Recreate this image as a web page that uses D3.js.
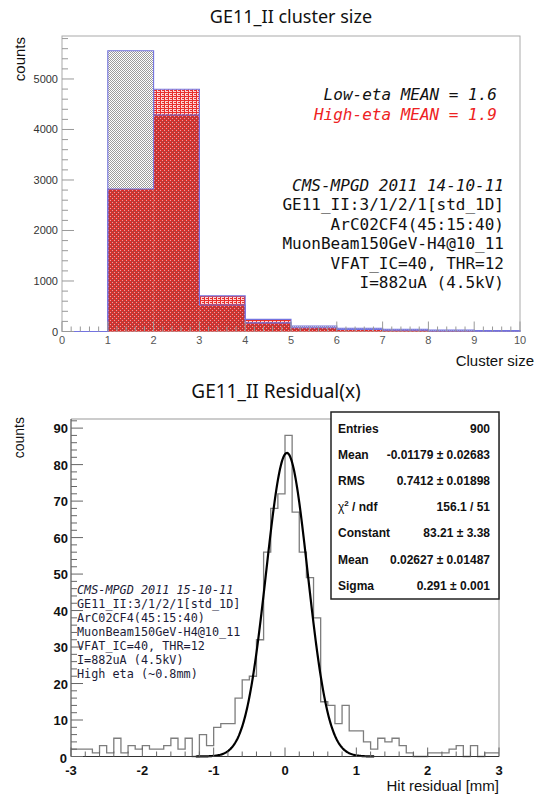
<!DOCTYPE html>
<html>
<head>
<meta charset="utf-8">
<script src="https://cdnjs.cloudflare.com/ajax/libs/d3/7.8.5/d3.min.js"></script>
<style>
body { margin: 0; background: #fff; }
svg { display: block; }
</style>
</head>
<body>
<svg id="chart" width="544" height="796"></svg>
<script>
// ---- cluster size (top) ----
var clusterBins = [0, 1, 2, 3, 4, 5, 6, 7, 8, 9];
var lowEta = [0, 5560, 4287, 525, 170, 110, 63, 45, 30, 20];
var highEta = [0, 2822, 4796, 705, 240, 75, 43, 25, 10, 5];
var topXTicks = [0, 1, 2, 3, 4, 5, 6, 7, 8, 9, 10];
var topYTicks = [0, 1000, 2000, 3000, 4000, 5000];
var meanLines = ["Low-eta MEAN = 1.6", "High-eta MEAN = 1.9"];
var topInfo = ["CMS-MPGD 2011 14-10-11", "GE11_II:3/1/2/1[std_1D]", "ArC02CF4(45:15:40)",
    "MuonBeam150GeV-H4@10_11", "VFAT_IC=40, THR=12", "I=882uA (4.5kV)"];

// ---- residual (bottom) ----
var residualEdges = [-3, 3];
var residualCounts = [2, 2, 2, 1, 3, 1, 5, 1, 3, 2,
    3, 2, 2, 3, 5, 2, 5, 0, 6, 3,
    8, 9, 9, 16, 21, 22, 32, 56, 68, 72,
    88, 67, 56, 49, 38, 15, 14, 9, 14, 7,
    7, 4, 2, 5, 4, 5, 3, 1, 0, 0,
    1, 1, 1, 2, 3, 0, 3, 0, 1, 1];
var botXTicks = [-3, -2, -1, 0, 1, 2, 3];
var botYTicks = [0, 10, 20, 30, 40, 50, 60, 70, 80, 90];
var fitConstant = 83.21, fitMean = 0.02627, fitSigma = 0.291;
var statLabels = ["Entries", "Mean", "RMS", "chi2", "Constant", "Mean", "Sigma"];
var statValues = ["900", "-0.01179 \u00b1 0.02683", "0.7412 \u00b1 0.01898", "156.1 / 51",
    "83.21 \u00b1 3.38", "0.02627 \u00b1 0.01487", "0.291 \u00b1 0.001"];
var botInfo = ["CMS-MPGD 2011 15-10-11", "GE11_II:3/1/2/1[std_1D]", "ArC02CF4(45:15:40)",
    "MuonBeam150GeV-H4@10_11", "VFAT_IC=40, THR=12", "I=882uA (4.5kV)", "High eta (~0.8mm)"];

var svg = d3.select("#chart");
var mono = "'DejaVu Sans Mono', monospace";
var sans = "'Liberation Sans', Arial, sans-serif";

var defs = svg.append("defs");
function addPattern(id, bg, fg, d) {
    var p = defs.append("pattern").attr("id", id).attr("width", 4).attr("height", 4)
        .attr("patternUnits", "userSpaceOnUse");
    p.append("rect").attr("width", 4).attr("height", 4).attr("fill", bg);
    p.append("path").attr("fill", fg).attr("d", d);
    return p;
}
// low-eta: grey checker
addPattern("grayPat", "#fff", "#9c9c9c", "M0,0h1v1h-1z M2,0h1v1h-1z M1,1h1v1h-1z M3,1h1v1h-1z M0,2h1v1h-1z M2,2h1v1h-1z M1,3h1v1h-1z M3,3h1v1h-1z");
// high-eta only: light red hatch
addPattern("redPat", "#fbd6d6", "#e8302c", "M0,0h4v1h-4z M0,1h1v3h-1z M2,2h2v1h-2z");
// both: dark red with grey dots
var ov = addPattern("bothPat", "#e22c28", "#8c4c4c", "M1,1h1v1h-1z M3,3h1v1h-1z M3,1h1v1h-1z M1,3h1v1h-1z");
ov.append("path").attr("fill", "#f0a0a0").attr("d", "M2,0h1v1h-1z M0,2h1v1h-1z");

function drawTop() {
    var x = d3.scaleLinear().domain([0, 10]).range([62, 520]);
    var y = d3.scaleLinear().domain([0, 5851]).range([331.5, 36]);
    var g = svg.append("g");

    g.append("text").attr("x", 291).attr("y", 23).attr("text-anchor", "middle")
        .attr("font-family", "'Noto Sans', sans-serif").attr("font-size", 18).attr("fill", "#111")
        .text("GE11_II cluster size");

    g.append("rect").attr("x", 62).attr("y", 36).attr("width", 458).attr("height", 295.5)
        .attr("fill", "none").attr("stroke", "#aaa");

    function bars(vals, fill) {
        g.append("g").selectAll("rect").data(clusterBins).enter().append("rect")
            .attr("x", function(d) { return x(d); })
            .attr("width", function(d) { return x(d + 1) - x(d); })
            .attr("y", function(d, i) { return y(vals[i]); })
            .attr("height", function(d, i) { return y(0) - y(vals[i]); })
            .attr("fill", fill);
    }
    bars(lowEta, "url(#grayPat)");
    bars(highEta, "url(#redPat)");
    bars(lowEta.map(function(v, i) { return Math.min(v, highEta[i]); }), "url(#bothPat)");

    var step = d3.line().curve(d3.curveStepAfter)
        .x(function(d) { return x(d[0]); }).y(function(d) { return y(d[1]); });
    [lowEta, highEta].forEach(function(vals) {
        var pts = clusterBins.map(function(b, i) { return [b, vals[i]]; });
        pts.push([10, vals[vals.length - 1]]);
        pts.push([10, 0]);
        g.append("path").attr("d", step(pts)).attr("fill", "none")
            .attr("stroke", "#7373e0").attr("stroke-width", 1.1);
    });

    // ticks
    d3.range(0, 5801, 200).forEach(function(v) {
        var major = v % 1000 == 0;
        g.append("line").attr("x1", 62).attr("x2", 62 + (major ? 12 : 6))
            .attr("y1", y(v)).attr("y2", y(v)).attr("stroke", "#999");
    });
    d3.range(0, 50.5, 1).forEach(function(k) {
        var v = k / 5, major = k % 5 == 0;
        g.append("line").attr("x1", x(v)).attr("x2", x(v))
            .attr("y1", 331.5).attr("y2", 331.5 - (major ? 10 : 5)).attr("stroke", "#999");
    });

    g.selectAll(".yl").data(topYTicks).enter().append("text")
        .attr("x", 58).attr("y", function(d) { return y(d) + 4; })
        .attr("text-anchor", "end").attr("font-family", sans).attr("font-size", 11).attr("fill", "#333")
        .text(function(d) { return d; });
    g.selectAll(".xl").data(topXTicks).enter().append("text")
        .attr("x", function(d) { return x(d); }).attr("y", 344)
        .attr("text-anchor", "middle").attr("font-family", sans).attr("font-size", 11).attr("fill", "#555")
        .text(function(d) { return d; });

    g.append("text").attr("x", 534).attr("y", 366).attr("text-anchor", "end")
        .attr("font-family", sans).attr("font-size", 15).attr("fill", "#111").text("Cluster size");
    g.append("text").attr("transform", "translate(25,37) rotate(-90)").attr("text-anchor", "end")
        .attr("font-family", sans).attr("font-size", 15).attr("fill", "#111").text("counts");

    g.selectAll(".mean").data(meanLines).enter().append("text")
        .attr("x", 497).attr("y", function(d, i) { return 100 + i * 19.5; })
        .attr("text-anchor", "end").attr("font-family", mono).attr("font-style", "italic")
        .attr("font-size", 16).attr("fill", function(d, i) { return i == 0 ? "#111" : "#ee2222"; })
        .text(function(d) { return d; });

    g.selectAll(".info").data(topInfo).enter().append("text")
        .attr("x", 504).attr("y", function(d, i) { return 191 + i * 19.4; })
        .attr("text-anchor", "end").attr("font-family", mono).attr("font-size", 16)
        .attr("font-style", function(d, i) { return i == 0 ? "italic" : "normal"; })
        .attr("fill", "#111").text(function(d) { return d; });
}

function drawBottom() {
    var x = d3.scaleLinear().domain(residualEdges).range([71, 499]);
    var y = d3.scaleLinear().domain([0, 92.5]).range([756.5, 419]);
    var w = (residualEdges[1] - residualEdges[0]) / residualCounts.length;
    var g = svg.append("g");

    g.append("text").attr("x", 276).attr("y", 398).attr("text-anchor", "middle")
        .attr("font-family", "'Noto Sans', sans-serif").attr("font-size", 19).attr("fill", "#111")
        .text("GE11_II Residual(x)");

    g.append("path").attr("d", "M71,419H499V756.5").attr("fill", "none").attr("stroke", "#999");

    var pts = residualCounts.map(function(c, i) { return [residualEdges[0] + i * w, c]; });
    pts.push([residualEdges[1], residualCounts[residualCounts.length - 1]]);
    var step = d3.line().curve(d3.curveStepAfter)
        .x(function(d) { return x(d[0]); }).y(function(d) { return y(d[1]); });
    g.append("path").attr("d", step(pts)).attr("fill", "none")
        .attr("stroke", "#7d7d7d").attr("stroke-width", 1.3);

    var fx = d3.range(-1.25, 1.2501, 0.01);
    var fit = d3.line().x(function(d) { return x(d); })
        .y(function(d) { return y(fitConstant * Math.exp(-0.5 * Math.pow((d - fitMean) / fitSigma, 2))); });
    g.append("path").attr("d", fit(fx)).attr("fill", "none")
        .attr("stroke", "#000").attr("stroke-width", 2.2);

    // axes
    g.append("path").attr("d", "M71,419V756.5H499").attr("fill", "none").attr("stroke", "#333");
    d3.range(0, 92.1, 2).forEach(function(v) {
        var major = v % 10 == 0;
        g.append("line").attr("x1", 71).attr("x2", 71 + (major ? 12 : 6))
            .attr("y1", y(v)).attr("y2", y(v)).attr("stroke", "#666");
    });
    d3.range(0, 30.5, 1).forEach(function(k) {
        var v = -3 + k / 5, major = k % 5 == 0;
        g.append("line").attr("x1", x(v)).attr("x2", x(v))
            .attr("y1", 756.5).attr("y2", 756.5 - (major ? 9 : 5)).attr("stroke", "#666");
    });

    g.selectAll(".yl").data(botYTicks).enter().append("text")
        .attr("x", function(d) { return d == 0 ? 67 : 68; })
        .attr("y", function(d) { return y(d) + (d == 0 ? 6 : 5); })
        .attr("text-anchor", "end").attr("font-family", sans).attr("font-weight", "bold")
        .attr("font-size", 13).attr("fill", "#111").text(function(d) { return d; });
    g.selectAll(".xl").data(botXTicks).enter().append("text")
        .attr("x", function(d) { return x(d); }).attr("y", 775)
        .attr("text-anchor", "middle").attr("font-family", sans).attr("font-weight", "bold")
        .attr("font-size", 13).attr("fill", "#111").text(function(d) { return d; });

    g.append("text").attr("x", 499).attr("y", 791).attr("text-anchor", "end")
        .attr("font-family", sans).attr("font-size", 15).attr("fill", "#111").text("Hit residual [mm]");
    g.append("text").attr("transform", "translate(24,417) rotate(-90)").attr("text-anchor", "end")
        .attr("font-family", sans).attr("font-size", 14).attr("fill", "#111").text("counts");

    g.selectAll(".info").data(botInfo).enter().append("text")
        .attr("x", 77).attr("y", function(d, i) { return 594 + i * 14; })
        .attr("font-family", mono).attr("font-size", 11.8)
        .attr("font-style", function(d, i) { return i == 0 ? "italic" : "normal"; })
        .attr("fill", "#1c1c38").text(function(d) { return d; });

    // stats box
    g.append("rect").attr("x", 331).attr("y", 412).attr("width", 168).attr("height", 187)
        .attr("fill", "#fff").attr("stroke", "#222").attr("stroke-width", 1.5);
    statLabels.forEach(function(lab, i) {
        var yy = 432.6 + i * 26.2;
        var t = g.append("text").attr("x", 338).attr("y", yy).attr("font-family", sans)
            .attr("font-size", 12).attr("font-weight", "bold").attr("fill", "#111");
        if (lab == "chi2") {
            t.append("tspan").attr("font-weight", "normal").text("\u03c7");
            t.append("tspan").attr("font-size", 8).attr("dy", -5).text("2");
            t.append("tspan").attr("dy", 5).text(" / ndf");
        } else {
            t.text(lab);
        }
        g.append("text").attr("x", 490).attr("y", yy).attr("text-anchor", "end")
            .attr("font-family", sans).attr("font-size", 12).attr("font-weight", "bold")
            .attr("fill", "#111").text(statValues[i]);
    });
}

drawTop();
drawBottom();
</script>
</body>
</html>
